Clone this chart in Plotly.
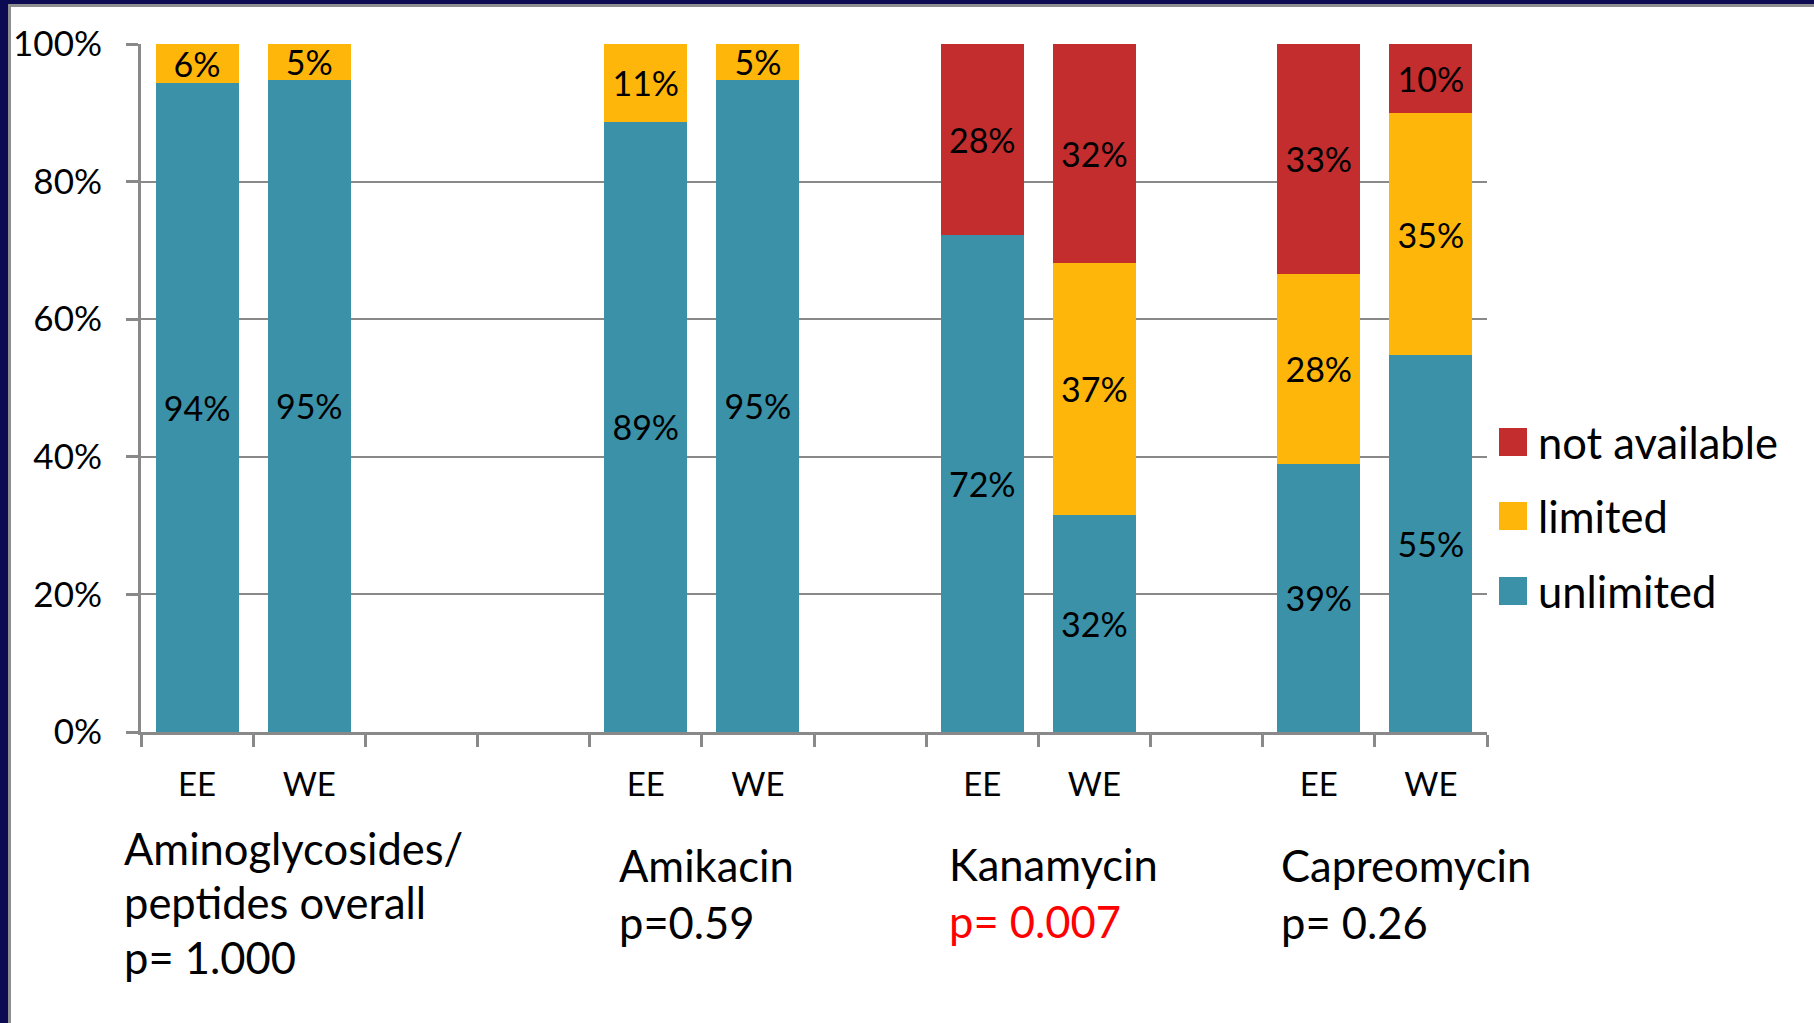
import plotly.graph_objects as go

# ---- data ----
slot_labels = ["EE", "WE", "", "", "EE", "WE", "", "EE", "WE", "", "EE", "WE"]
unlimited = [94.3, 94.8, None, None, 88.7, 94.8, None, 72.3, 31.6, None, 39.0, 54.8]
limited = [5.7, 5.2, None, None, 11.3, 5.2, None, None, 36.6, None, 27.6, 35.1]
not_available = [None, None, None, None, None, None, None, 27.7, 31.8, None, 33.4, 10.1]
series_names = ["unlimited", "limited", "not available"]
series_colors = ["#3A91A8", "#FFB60B", "#C42D2E"]

group_texts = [
    ["Aminoglycosides/", "peptides overall", "p= 1.000"],
    ["Amikacin", "p=0.59"],
    ["Kanamycin", "p= 0.007"],
    ["Capreomycin", "p= 0.26"],
]
group_text_colors = [
    ["black", "black", "black"],
    ["black", "black"],
    ["black", "#FF0000"],
    ["black", "black"],
]
yticks = [0, 20, 40, 60, 80, 100]
ytick_text = ["0%", "20%", "40%", "60%", "80%", "100%"]

# ---- layout geometry (pixels) ----
W, H = 1814, 1023
L, R, T, B = 141, 1487, 44, 732
FONT = "Lato, 'Open Sans', sans-serif"
GRAY = "#898989"


def px_x(px):
    return (px - L) / (R - L)


def px_y(py):
    return (B - py) / (B - T)


# unique category ids; the visible tick text comes from slot_labels
cats = ["slot%d" % i for i in range(len(slot_labels))]

fig = go.Figure()
for name, vals, col in zip(series_names, [unlimited, limited, not_available], series_colors):
    fig.add_trace(go.Bar(
        x=cats, y=vals, name=name, marker=dict(color=col, line=dict(width=0)),
        texttemplate="%{y:.0f}%", textposition="inside", insidetextanchor="middle",
        textfont=dict(family=FONT, size=34, color="black"),
        constraintext="none", cliponaxis=False, showlegend=False, hoverinfo="skip",
    ))

shapes = []
annotations = []

# legend drawn manually (large squares like the original)
leg_centers = {"not available": 442, "limited": 516, "unlimited": 591}
for name, col in zip(series_names, series_colors):
    cy = leg_centers[name]
    shapes.append(dict(type="rect", xref="paper", yref="paper",
                       x0=px_x(1499), x1=px_x(1527), y0=px_y(cy + 14), y1=px_y(cy - 14),
                       fillcolor=col, line=dict(width=0)))
    annotations.append(dict(xref="paper", yref="paper", x=px_x(1536), y=px_y(cy),
                            xanchor="left", yanchor="middle", showarrow=False,
                            text=name, font=dict(family=FONT, size=43.5, color="black")))

# group labels under the axis
group_left = [122, 617, 947, 1279]
group_line_y = [[848, 902, 957], [865, 922], [864, 921], [865, 922]]
for lines, cols, lx, ys in zip(group_texts, group_text_colors, group_left, group_line_y):
    for txt, c, yy in zip(lines, cols, ys):
        annotations.append(dict(xref="paper", yref="paper", x=px_x(lx), y=px_y(yy),
                                xanchor="left", yanchor="middle", showarrow=False,
                                text=txt, font=dict(family=FONT, size=43.5, color=c)))

# slide frame (dark navy border on the left and top)
NAVY = "#0B0A52"
shapes += [
    dict(type="rect", xref="paper", yref="paper", x0=px_x(0), x1=px_x(8),
         y0=px_y(H), y1=px_y(0), fillcolor=NAVY, line=dict(width=0), layer="above"),
    dict(type="rect", xref="paper", yref="paper", x0=px_x(0), x1=px_x(W),
         y0=px_y(4), y1=px_y(0), fillcolor=NAVY, line=dict(width=0), layer="above"),
    dict(type="rect", xref="paper", yref="paper", x0=px_x(8), x1=px_x(11),
         y0=px_y(H), y1=px_y(4), fillcolor="#8E8E8E", line=dict(width=0), layer="above"),
    dict(type="rect", xref="paper", yref="paper", x0=px_x(8), x1=px_x(W),
         y0=px_y(7), y1=px_y(4), fillcolor="#8E8E8E", line=dict(width=0), layer="above"),
]

fig.update_layout(
    width=W, height=H,
    margin=dict(l=L, r=W - R, t=T, b=H - B, pad=0),
    paper_bgcolor="white", plot_bgcolor="white",
    barmode="stack", bargap=0.26,
    showlegend=False,
    font=dict(family=FONT, color="black"),
    shapes=shapes, annotations=annotations,
    uniformtext=dict(minsize=34, mode="show"),
    xaxis=dict(
        type="category", categoryorder="array", categoryarray=cats,
        tickmode="array", tickvals=cats, ticktext=slot_labels,
        tickson="boundaries", ticks="outside", ticklen=12, tickwidth=2.5, tickcolor=GRAY,
        showline=True, linecolor=GRAY, linewidth=3, showgrid=False, tickangle=0,
        tickfont=dict(family=FONT, size=33, color="black"), ticklabelstandoff=21,
        range=[-0.5, 11.5], fixedrange=True, automargin=False,
    ),
    yaxis=dict(
        range=[0, 100], tickmode="array", tickvals=yticks, ticktext=ytick_text,
        ticks="outside", ticklen=12, tickwidth=2.5, tickcolor=GRAY,
        showline=True, linecolor=GRAY, linewidth=3,
        showgrid=True, gridcolor=GRAY, gridwidth=2, zeroline=False,
        tickfont=dict(family=FONT, size=35, color="black"), ticklabelstandoff=17,
        fixedrange=True, automargin=False,
    ),
)

fig.write_html("out.html")
